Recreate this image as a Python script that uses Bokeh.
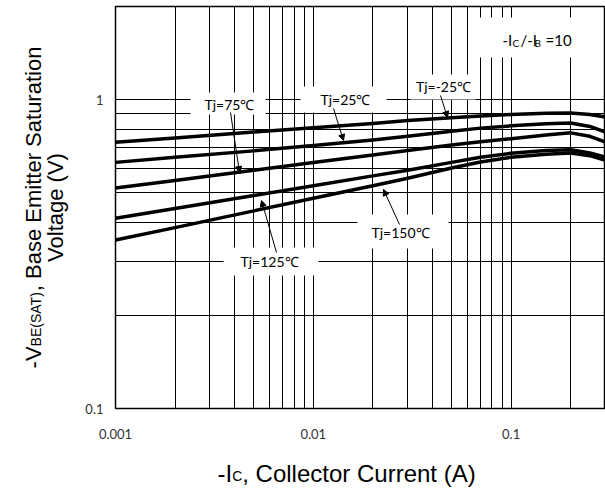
import math
from bokeh.plotting import figure
from bokeh.layouts import row, column
from bokeh.models import FixedTicker, Label, Arrow, NormalHead, BoxAnnotation
from bokeh.embed import file_html
from bokeh.resources import INLINE

# ---------------- data ----------------
ic = [0.001, 0.002, 0.005, 0.01, 0.02, 0.03, 0.05, 0.07, 0.1, 0.15, 0.2, 0.25, 0.3]
vbe_m25 = [0.727, 0.751, 0.785, 0.810, 0.837, 0.855, 0.873, 0.884, 0.894, 0.902, 0.905, 0.895, 0.878]
vbe_25 = [0.626, 0.650, 0.682, 0.710, 0.740, 0.760, 0.790, 0.808, 0.822, 0.835, 0.840, 0.818, 0.785]
vbe_75 = [0.517, 0.547, 0.590, 0.625, 0.661, 0.684, 0.712, 0.730, 0.747, 0.768, 0.780, 0.760, 0.728]
vbe_125 = [0.413, 0.444, 0.489, 0.526, 0.566, 0.590, 0.626, 0.650, 0.670, 0.684, 0.688, 0.672, 0.650]
vbe_150 = [0.351, 0.385, 0.436, 0.479, 0.526, 0.556, 0.600, 0.628, 0.650, 0.665, 0.671, 0.658, 0.636]
series = [vbe_m25, vbe_25, vbe_75, vbe_125, vbe_150]

x_ticks = [0.001, 0.01, 0.1]
x_tick_labels = ["0.001", "0.01", "0.1"]
y_ticks = [0.1, 1]
y_tick_labels = ["0.1", "1"]
x_grid = [k * 10.0 ** e for e in (-3, -2, -1) for k in range(1, 10)]
y_grid = [k / 10.0 for k in range(2, 11)]
curve_labels = ["Tj=-25℃", "Tj=25℃", "Tj=75℃", "Tj=125℃", "Tj=150℃"]

X_RANGE = (0.001, 0.3)
Y_RANGE = (0.1, 2.0)

# ---------------- layout (page pixels) ----------------
PAGE_W, PAGE_H = 605, 488
YT_W = 75            # strip for the y-axis title
MAIN_H = 450         # main figure height
FL, FR, FT, FB = 115, 605, 6, 408   # frame edges on the page


def d(xi, yi):
    """page pixel -> data coordinates of the main (log-log) plot"""
    lx0, lx1 = math.log10(X_RANGE[0]), math.log10(X_RANGE[1])
    ly0, ly1 = math.log10(Y_RANGE[0]), math.log10(Y_RANGE[1])
    x = 10 ** (lx0 + (xi - FL) / (FR - FL) * (lx1 - lx0))
    y = 10 ** (ly1 - (yi - FT) / (FB - FT) * (ly1 - ly0))
    return x, y


ARIAL = {'-': 333, 'I': 278, 'C': 722, ',': 278, ' ': 278, 'o': 556, 'l': 222, 'e': 556,
         'c': 500, 't': 278, 'r': 333, 'u': 556, 'n': 556, '(': 333, 'A': 667, ')': 333,
         'V': 667, 'B': 667, 'E': 667, 'S': 667, 'T': 611, 'a': 556, 's': 500, 'm': 833,
         'i': 222, 'g': 556}


def tw(s, size):
    return sum(ARIAL.get(ch, 556) for ch in s) / 1000.0 * size


p = figure(width=PAGE_W - YT_W, height=MAIN_H, x_axis_type="log", y_axis_type="log",
           x_range=X_RANGE, y_range=Y_RANGE, output_backend="svg",
           toolbar_location=None, min_border_left=FL - YT_W, min_border_right=0,
           min_border_top=FT, min_border_bottom=MAIN_H - FB)
p.frame_align = False
p.background_fill_color = "white"
p.border_fill_color = "white"
p.outline_line_color = "black"
p.outline_line_width = 1.5

for ax in (p.xaxis, p.yaxis):
    ax.axis_line_color = None
    ax.major_tick_line_color = None
    ax.minor_tick_line_color = None
    ax.major_tick_in = 0
    ax.major_tick_out = 0
    ax.minor_tick_in = 0
    ax.minor_tick_out = 0
    ax.major_label_text_font = "Lato"
    ax.major_label_text_font_size = "13px"
    ax.major_label_text_color = "#333333"
p.xaxis.ticker = FixedTicker(ticks=x_ticks)
p.yaxis.ticker = FixedTicker(ticks=y_ticks)
p.xaxis.major_label_overrides = dict(zip(x_ticks, x_tick_labels))
p.yaxis.major_label_overrides = dict(zip(y_ticks, y_tick_labels))
p.xaxis.major_label_standoff = 20
p.yaxis.major_label_standoff = 12

p.xgrid.ticker = FixedTicker(ticks=x_grid)
p.ygrid.ticker = FixedTicker(ticks=y_grid)
for g in (p.xgrid, p.ygrid):
    g.grid_line_color = "black"
    g.grid_line_width = 1
    g.grid_line_alpha = 1.0

for s in series:
    p.line(ic, s, line_color="black", line_width=3.5, line_join="round", line_cap="round")

# ---------------- annotations ----------------
boxes = [(190, 265, 92, 114), (300, 386, 86, 112), (410, 475, 74, 99),
         (223, 318, 247, 275), (357, 448, 214, 248), (478, 580, 17, 57)]
for (xl, xr, yt_, yb) in boxes:
    l, t = d(xl, yt_)
    r, b = d(xr, yb)
    p.add_layout(BoxAnnotation(left=l, right=r, top=t, bottom=b, fill_color="white",
                               fill_alpha=1.0, line_color=None))

arrows = [(440, 95, 447, 117), (333, 108, 343, 140), (230, 112, 239, 172),
          (276, 252, 261, 200), (399, 224, 383, 189)]
for (x0, y0, x1, y1) in arrows:
    xs, ys = d(x0, y0)
    xe, ye = d(x1, y1)
    p.add_layout(Arrow(x_start=xs, y_start=ys, x_end=xe, y_end=ye, line_width=1,
                       line_color="black",
                       end=NormalHead(size=6, fill_color="black", line_color="black")))

label_pos = [(443, 86), (345, 99), (229, 104), (269, 261), (400, 232)]
for txt, (xi, yi) in zip(curve_labels, label_pos):
    x, y = d(xi, yi)
    p.add_layout(Label(x=x, y=y, text=txt, text_font="Lato", text_font_size="14px",
                       text_align="center", text_baseline="middle", text_color="black"))

# -Ic/-Ib = 10
ratio_pieces = [("-I", 502, 39, "15px"), ("C", 512, 42, "10px"), ("/-I", 520, 39, "15px"),
                ("B", 534, 42, "10px"), ("=10", 545, 39, "15px")]
for txt, xi, yi, fs in ratio_pieces:
    x, y = d(xi, yi)
    p.add_layout(Label(x=x, y=y, text=txt, text_font="Lato", text_font_size=fs,
                       text_align="left", text_baseline="alphabetic", text_color="black"))


# ---------------- axis titles (own strips, pixel coordinates) ----------------
def strip(w, h):
    f = figure(width=w, height=h, x_range=(0, w), y_range=(0, h), x_axis_type=None,
               y_axis_type=None, output_backend="svg", toolbar_location=None,
               min_border_left=0, min_border_right=0, min_border_top=0, min_border_bottom=0)
    f.frame_align = False
    f.outline_line_color = None
    f.background_fill_color = "white"
    f.border_fill_color = "white"
    return f


# x title: "-I" + sub "C" + ", Collector Current (A)"
XT_H = PAGE_H - MAIN_H
xt = strip(PAGE_W, XT_H)
MAIN_FS, SUB_FS = 24, 14
parts = [("-I", MAIN_FS, 0), ("C", SUB_FS, -2), (", Collector Current (A)", MAIN_FS, 0)]
cx = 217
baseline = PAGE_H - 481 + 8
for t, fs, dy in parts:
    xt.add_layout(Label(x=cx, y=baseline + dy, text=t, text_font="Liberation Sans",
                        text_font_size=f"{fs}px", text_align="left",
                        text_baseline="alphabetic", text_color="black"))
    cx += tw(t, fs)

# y title: two rotated lines
yt = strip(YT_W, MAIN_H)
Y_FS, Y_SUB = 22, 14
parts1 = [("-V", Y_FS, 0), ("BE(SAT)", Y_SUB, 2), (", Base Emitter Saturation", Y_FS, 0)]
len1 = sum(tw(t, fs) for t, fs, _ in parts1)
center_y = (FT + FB) / 2.0
pos = center_y + len1 / 2.0          # page y where line 1 starts (bottom)
for t, fs, dx in parts1:
    yt.add_layout(Label(x=33 + dx, y=MAIN_H - pos, text=t, text_font="Liberation Sans",
                        text_font_size=f"{fs}px", angle=math.pi / 2, text_align="left",
                        text_baseline="alphabetic", text_color="black"))
    pos -= tw(t, fs)
line2 = "Voltage (V)"
yt.add_layout(Label(x=55, y=MAIN_H - center_y, text=line2, text_font="Liberation Sans",
                    text_font_size=f"{Y_FS}px", angle=math.pi / 2, text_align="center",
                    text_baseline="alphabetic", text_color="black"))

layout = column(row(yt, p, spacing=0), xt, spacing=0)
open("out.html", "w").write(file_html(layout, INLINE))
